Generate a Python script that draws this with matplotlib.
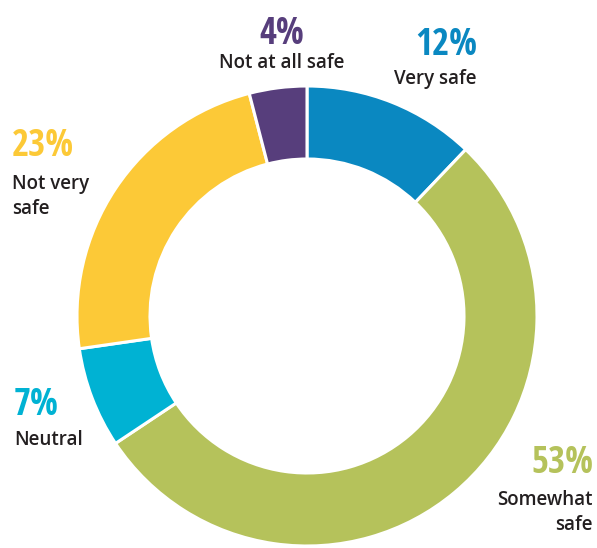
import matplotlib
matplotlib.use("Agg")
import matplotlib.pyplot as plt
from matplotlib import font_manager
from matplotlib.textpath import TextPath

# --- data, clockwise from the top ---
labels = ["Very safe", "Somewhat\nsafe", "Neutral", "Not very\nsafe", "Not at all safe"]
shares = [12, 53, 7, 23, 4]
colors = ["#0a88c1", "#b5c25b", "#00b2d3", "#fcc937", "#573e7c"]

# the big percentages are set in a narrow bold face: "23%" is about 63 px wide, 27 px tall.
# look among the usual sans families for the upright bold face whose proportions come closest.
families = ("Liberation Sans", "Open Sans", "Noto Sans", "Roboto", "Lato", "Inter", "DejaVu Sans")
target = 63 / 27
best, best_err = None, 1e9
for f in font_manager.fontManager.ttflist:
    if not f.name.startswith(families) or "Mono" in f.name or "CJK" in f.name:
        continue
    if f.style != "normal" or "italic" in f.fname.lower() or "oblique" in f.fname.lower():
        continue
    if not (isinstance(f.weight, int) and 600 <= f.weight <= 700):
        continue
    try:
        fp = font_manager.FontProperties(fname=f.fname, size=10)
        ext = TextPath((0, 0), "23%", prop=fp).get_extents()
    except Exception:
        continue
    if ext.height <= 0:
        continue
    err = abs(ext.width / ext.height - target)
    if err < best_err:
        best, best_err, best_h = f.fname, err, ext.height / 10

W, H = 597, 548
fig = plt.figure(figsize=(W / 100, H / 100), dpi=100)
ax = fig.add_axes([0, 0, 1, 1])

ax.pie(shares, colors=colors, startangle=90, counterclock=False,
       center=(307, H - 316), radius=230,
       wedgeprops=dict(width=73, edgecolor="white", linewidth=2.2))
ax.set_xlim(0, W)
ax.set_ylim(0, H)
ax.set_aspect("equal")
ax.axis("off")

if best:
    size = 27 / (best_h * 100 / 72)
    pct_font = dict(fontproperties=font_manager.FontProperties(fname=best, size=size))
else:
    pct_font = dict(family=["Roboto", "DejaVu Sans"], weight="bold", fontsize=26)
lab_font = dict(family=["Open Sans", "DejaVu Sans"], weight="semibold", fontsize=13.5,
                color="#231f20", linespacing=1.35)

# (x, baseline of percent, baseline of label first line, alignment)
spots = [
    (477, 55, 84, "right"),   # Very safe
    (593, 473, 505, "right"),  # Somewhat safe
    (14, 415, 445, "left"),   # Neutral
    (12, 156, 189, "left"),   # Not very safe
    (282, 44, 68, "center"),  # Not at all safe
]

for lab, val, col, (x, yp, yl, ha) in zip(labels, shares, colors, spots):
    ax.text(x, H - yp, f"{val}%", color=col, ha=ha, va="baseline", **pct_font)
    lines = lab.split("\n")
    for i, line in enumerate(lines):
        ax.text(x, H - yl - i * 25, line, ha=ha, va="baseline", **lab_font)

fig.savefig("out.png", dpi=100)
